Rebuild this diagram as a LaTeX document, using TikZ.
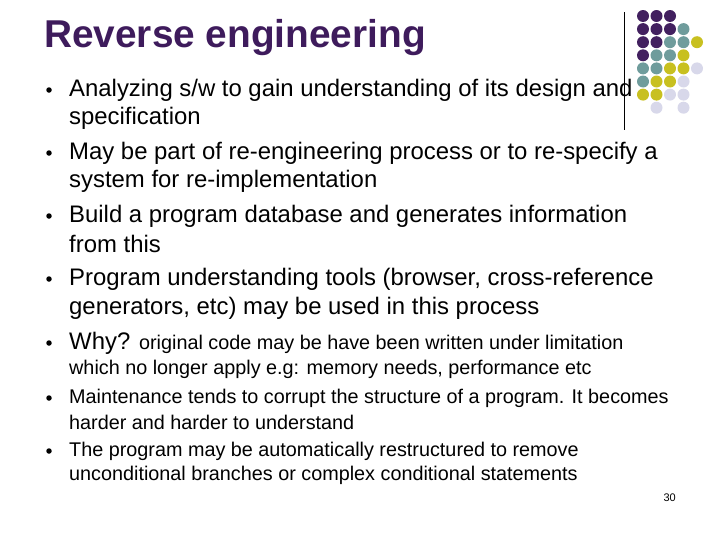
\documentclass[tikz,border=0pt]{standalone}
\usepackage{fontspec}
\setmainfont{Liberation Sans}
\definecolor{tp}{HTML}{3E1B5C}
\definecolor{dp}{HTML}{42205F}
\definecolor{dt}{HTML}{6F9C9C}
\definecolor{dy}{HTML}{C8C020}
\definecolor{dl}{HTML}{D8D8EA}
\begin{document}
\begin{tikzpicture}[x=1pt,y=-1pt,
  big/.style={anchor=west,inner sep=0,font=\fontsize{23.9}{26}\selectfont},
  small/.style={anchor=west,inner sep=0,font=\fontsize{19.8}{22}\selectfont},
  bul/.style={circle,fill=black,inner sep=0,minimum size=5.5pt}]
\useasboundingbox (0,0) rectangle (717,538);
\node[anchor=west,inner sep=0,text=tp,font=\fontsize{38.8}{42}\selectfont\bfseries] (t) at (44,38) {Reverse engineering};
\draw[line width=0.8pt] (624,12) -- (624,130);
\foreach \r/\lst in {0/{0/dp,1/dp,2/dp},1/{0/dp,1/dp,2/dp,3/dt},2/{0/dp,1/dp,2/dt,3/dt,4/dy},3/{0/dp,1/dt,2/dt,3/dy},4/{0/dt,1/dt,2/dy,3/dy,4/dl},5/{0/dt,1/dy,2/dy,3/dl},6/{0/dy,1/dy,2/dl,3/dl},7/{1/dl,3/dl}}
  \foreach \c/\col in \lst
    \fill[\col] (643+13.5*\c,16+13.1*\r) circle (6);
\foreach \y in {90,153,216,279,343,398,451}
  \node[bul] at (49,\y) {};
\node[big] (a1) at (69,90) {Analyzing s/w to gain understanding of its design and};
\node[big] (a2) at (69,118) {specification};
\node[big] (b1) at (69,153) {May be part of re-engineering process or to re-specify a};
\node[big] (b2) at (69,181) {system for re-implementation};
\node[big] (c1) at (69,216) {Build a program database and generates information};
\node[big] (c2) at (69,244) {from this};
\node[big] (d1) at (69,279) {Program understanding tools (browser, cross-reference};
\node[big] (d2) at (69,308) {generators, etc) may be used in this process};
\node[big] (e1) at (69,343) {Why? {\fontsize{19.8}{22}\selectfont original code may be have been written under limitation}};
\node[small] (e2) at (69,369) {which no longer apply e.g: memory needs, performance etc};
\node[small] (f1) at (69,398) {Maintenance tends to corrupt the structure of a program. It becomes};
\node[small] (f2) at (69,422) {harder and harder to understand};
\node[small] (g1) at (69,451) {The program may be automatically restructured to remove};
\node[small] (g2) at (69,475) {unconditional branches or complex conditional statements};
\node[anchor=east,inner sep=0,font=\fontsize{11}{13}\selectfont] (pn) at (676,498) {30};
\end{tikzpicture}
\end{document}
